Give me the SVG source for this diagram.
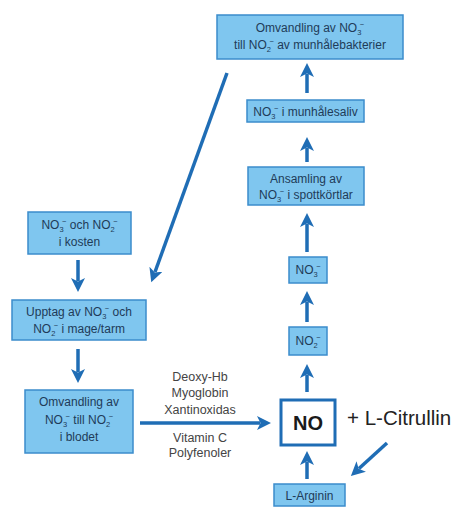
<svg xmlns="http://www.w3.org/2000/svg" width="455" height="508" viewBox="0 0 455 508">
<style>
.box{fill:#7fc6ef;stroke:#3b8ccc;stroke-width:1.5}
.t{font-family:"Liberation Sans",Arial,sans-serif;font-size:12px;fill:#213b58;text-anchor:middle}
.s{font-size:7.5px}
.lbl{font-family:"Liberation Sans",Arial,sans-serif;font-size:12.5px;fill:#444;text-anchor:middle}
.arr{stroke:#1f6db5;stroke-width:3.5;fill:none;marker-end:url(#ah)}
</style>
<defs>
<marker id="ah" markerUnits="userSpaceOnUse" markerWidth="15" markerHeight="15" refX="3" refY="7" orient="auto">
<path d="M0,0 L14,7 L0,14 L3.5,7 Z" fill="#1f6db5"/>
</marker>
</defs>
<rect width="455" height="508" fill="#fff"/>

<g id="connectors">
<line class="arr" x1="307" y1="93" x2="307" y2="74"/>
<line class="arr" x1="307" y1="162" x2="307" y2="148"/>
<line class="arr" x1="307" y1="252" x2="307" y2="224"/>
<line class="arr" x1="307" y1="322" x2="307" y2="302"/>
<line class="arr" x1="307" y1="392" x2="307" y2="375"/>
<line class="arr" x1="307" y1="479" x2="307" y2="462"/>
<line class="arr" x1="78" y1="260" x2="78" y2="281"/>
<line class="arr" x1="78" y1="349" x2="78" y2="372"/>
<line class="arr" x1="227" y1="73" x2="155" y2="272"/>
<line class="arr" x1="140" y1="423" x2="260" y2="423"/>
<line class="arr" x1="387" y1="443" x2="359" y2="468.5"/>
</g>

<g id="n-munbakterier">
<rect class="box" x="217" y="15" width="186" height="44"/>
<text class="t" x="310" y="32">Omvandling av NO<tspan class="s" dy="3">3</tspan><tspan class="s" dx="-1.5" dy="-8">−</tspan></text>
<text class="t" x="310" y="49">till NO<tspan class="s" dy="3">2</tspan><tspan class="s" dx="-1.5" dy="-8">−</tspan><tspan dy="5"> av munhålebakterier</tspan></text>
</g>

<g id="n-munhalesaliv">
<rect class="box" x="247" y="100" width="117" height="22"/>
<text class="t" x="305.5" y="115.5">NO<tspan class="s" dy="3">3</tspan><tspan class="s" dx="-1.5" dy="-8">−</tspan><tspan dy="5"> i munhålesaliv</tspan></text>
</g>

<g id="n-spottkortlar">
<rect class="box" x="248" y="167" width="116" height="38"/>
<text class="t" x="306" y="183">Ansamling av</text>
<text class="t" x="306" y="199">NO<tspan class="s" dy="3">3</tspan><tspan class="s" dx="-1.5" dy="-8">−</tspan><tspan dy="5"> i spottkörtlar</tspan></text>
</g>

<g id="n-no3">
<rect class="box" x="289" y="257" width="38" height="26"/>
<text class="t" x="308" y="274">NO<tspan class="s" dy="3">3</tspan><tspan class="s" dx="-1.5" dy="-8">−</tspan></text>
</g>

<g id="n-no2">
<rect class="box" x="289" y="327" width="38" height="28"/>
<text class="t" x="308" y="345">NO<tspan class="s" dy="3">2</tspan><tspan class="s" dx="-1.5" dy="-8">−</tspan></text>
</g>

<g id="n-no">
<rect x="281" y="400" width="54" height="45" fill="#fff" stroke="#1f6db5" stroke-width="3"/>
<text x="308" y="430" font-family="Liberation Sans,Arial,sans-serif" font-size="20" font-weight="bold" fill="#1a1a1a" text-anchor="middle">NO</text>
</g>

<g id="n-citrullin">
<text x="347" y="425" font-family="Liberation Sans,Arial,sans-serif" font-size="20.5" fill="#222">+ L-Citrullin</text>
</g>

<g id="n-arginin">
<rect class="box" x="274" y="484" width="71" height="22"/>
<text class="t" x="309.5" y="499.5">L-Arginin</text>
</g>

<g id="n-kosten">
<rect class="box" x="28" y="212" width="103" height="42"/>
<text class="t" x="79.5" y="229">NO<tspan class="s" dy="3">3</tspan><tspan class="s" dx="-1.5" dy="-8">−</tspan><tspan dy="5"> och NO</tspan><tspan class="s" dy="3">2</tspan><tspan class="s" dx="-1.5" dy="-8">−</tspan></text>
<text class="t" x="79.5" y="246">i kosten</text>
</g>

<g id="n-upptag">
<rect class="box" x="12" y="300" width="134" height="40"/>
<text class="t" x="79" y="316">Upptag av NO<tspan class="s" dy="3">3</tspan><tspan class="s" dx="-1.5" dy="-8">−</tspan><tspan dy="5"> och</tspan></text>
<text class="t" x="79" y="333">NO<tspan class="s" dy="3">2</tspan><tspan class="s" dx="-1.5" dy="-8">−</tspan><tspan dy="5"> i mage/tarm</tspan></text>
</g>

<g id="n-blodet">
<rect class="box" x="25" y="390" width="108" height="63"/>
<text class="t" x="79" y="406">Omvandling av</text>
<text class="t" x="79" y="424">NO<tspan class="s" dy="3">3</tspan><tspan class="s" dx="-1.5" dy="-8">−</tspan><tspan dy="5"> till NO</tspan><tspan class="s" dy="3">2</tspan><tspan class="s" dx="-1.5" dy="-8">−</tspan></text>
<text class="t" x="79" y="441">i blodet</text>
</g>

<g id="n-labels">
<text class="lbl" x="200" y="381">Deoxy-Hb</text>
<text class="lbl" x="200" y="397">Myoglobin</text>
<text class="lbl" x="200" y="414">Xantinoxidas</text>
<text class="lbl" x="200" y="442">Vitamin C</text>
<text class="lbl" x="200" y="457">Polyfenoler</text>
</g>
</svg>
